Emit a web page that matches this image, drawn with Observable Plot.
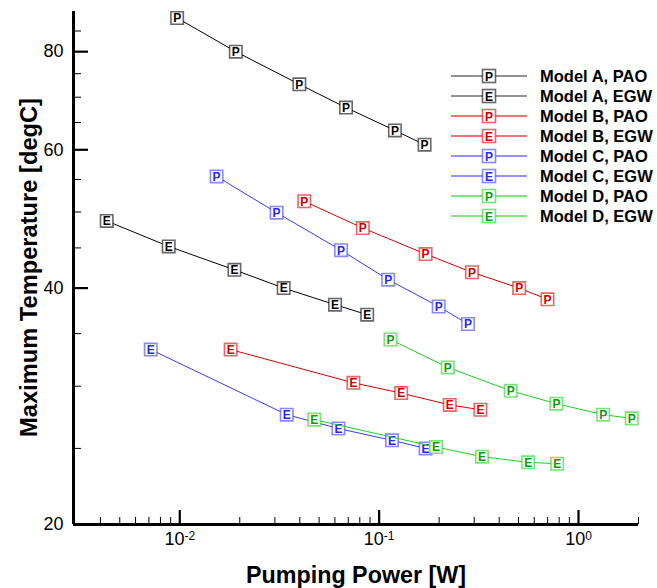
<!DOCTYPE html>
<html>
<head>
<meta charset="utf-8">
<script src="https://cdn.jsdelivr.net/npm/d3@7"></script>
<script src="https://cdn.jsdelivr.net/npm/@observablehq/plot@0.6"></script>
<style>
  body { margin: 0; background: #fff; font-family: "Liberation Sans", Arial, sans-serif; }
  #chart { position: relative; width: 657px; height: 588px; }
</style>
</head>
<body>
<div id="chart"></div>
<script>
// ---- Data ----
const seriesNames   = ["Model A, PAO", "Model A, EGW", "Model B, PAO", "Model B, EGW",
                       "Model C, PAO", "Model C, EGW", "Model D, PAO", "Model D, EGW"];
const seriesLetters = ["P", "E", "P", "E", "P", "E", "P", "E"];

const modelA_PAO_power = [0.0097, 0.0191, 0.0398, 0.0682, 0.120, 0.169];
const modelA_PAO_temp  = [88.3, 80.0, 72.7, 67.9, 63.5, 60.9];
const modelA_EGW_power = [0.0043, 0.0088, 0.0188, 0.0332, 0.0601, 0.0871];
const modelA_EGW_temp  = [48.7, 45.2, 42.2, 40.0, 38.1, 37.0];
const modelB_PAO_power = [0.0421, 0.0828, 0.171, 0.292, 0.504, 0.699];
const modelB_PAO_temp  = [51.6, 47.7, 44.2, 41.9, 40.0, 38.7];
const modelB_EGW_power = [0.0180, 0.0743, 0.129, 0.226, 0.322];
const modelB_EGW_temp  = [33.4, 30.3, 29.4, 28.4, 28.0];
const modelC_PAO_power = [0.0153, 0.0306, 0.0644, 0.111, 0.199, 0.279];
const modelC_PAO_temp  = [55.5, 49.9, 44.7, 41.0, 37.9, 36.0];
const modelC_EGW_power = [0.00715, 0.0344, 0.0625, 0.116, 0.171];
const modelC_EGW_temp  = [33.4, 27.6, 26.5, 25.6, 25.0];
const modelD_PAO_power = [0.114, 0.221, 0.457, 0.775, 1.33, 1.85];
const modelD_PAO_temp  = [34.4, 31.7, 29.6, 28.5, 27.6, 27.3];
const modelD_EGW_power = [0.0473, 0.193, 0.328, 0.559, 0.782];
const modelD_EGW_temp  = [27.2, 25.1, 24.4, 24.0, 23.9];

const xDomain = [0.00293, 2.0];
const yDomain = [20, 90];
const xMajorTicks = [0.01, 0.1, 1];
const xMinorTicks = [0.004, 0.005, 0.006, 0.007, 0.008, 0.009,
                     0.02, 0.03, 0.04, 0.05, 0.06, 0.07, 0.08, 0.09,
                     0.2, 0.3, 0.4, 0.5, 0.6, 0.7, 0.8, 0.9, 2];
const yMajorTicks = [20, 40, 60, 80];
const yMinorTicks = [25, 30, 35, 45, 50, 55, 65, 70, 75, 85];
const xTitle = "Pumping Power [W]";
const yTitle = "Maximum Temperature [degC]";

// ---- Styles ----
const lineColors   = ["#000000", "#000000", "#e00000", "#e00000", "#3a3aff", "#3a3aff", "#1ed01e", "#1ed01e"];
const letterColors = ["#000000", "#000000", "#d00000", "#d00000", "#2828f0", "#2828f0", "#109a10", "#109a10"];

const powers = [modelA_PAO_power, modelA_EGW_power, modelB_PAO_power, modelB_EGW_power,
                modelC_PAO_power, modelC_EGW_power, modelD_PAO_power, modelD_EGW_power];
const temps  = [modelA_PAO_temp, modelA_EGW_temp, modelB_PAO_temp, modelB_EGW_temp,
                modelC_PAO_temp, modelC_EGW_temp, modelD_PAO_temp, modelD_EGW_temp];

const W = 657, H = 588;
const mL = 73, mR = 19, mT = 11, mB = 64;
const innerW = W - mL - mR, innerH = H - mT - mB;

const seriesMarks = seriesNames.flatMap((name, i) => {
  const rows = powers[i].map((p, j) => ({series: name, letter: seriesLetters[i], power: p, temp: temps[i][j]}));
  return [
    Plot.line(rows, {x: "power", y: "temp", stroke: lineColors[i], strokeWidth: 1}),
    Plot.dot(rows, {x: "power", y: "temp", symbol: "square", r: 7.0, fill: "white",
                    stroke: lineColors[i], strokeOpacity: 0.6, strokeWidth: 1.6}),
    Plot.text(rows, {x: "power", y: "temp", text: "letter", fill: letterColors[i],
                     fontWeight: "bold", fontSize: 12, dy: 0.5})
  ];
});

const chart = Plot.plot({
  width: W, height: H,
  marginLeft: mL, marginRight: mR, marginTop: mT, marginBottom: mB,
  style: {fontFamily: "'Liberation Sans', Arial, sans-serif", background: "white", color: "black"},
  x: {type: "log", domain: xDomain},
  y: {type: "log", domain: yDomain},
  marks: [
    // minor / major ticks pointing inward
    Plot.tickX(xMinorTicks, {x: d => d, insetTop: innerH - 7, stroke: "black", strokeWidth: 1}),
    Plot.tickX(xMajorTicks, {x: d => d, insetTop: innerH - 14, stroke: "black", strokeWidth: 2.2}),
    Plot.tickY(yMinorTicks, {y: d => d, insetRight: innerW - 8, stroke: "black", strokeWidth: 1}),
    Plot.tickY(yMajorTicks, {y: d => d, insetRight: innerW - 15, stroke: "black", strokeWidth: 2.2}),
    // axis lines
    Plot.ruleX([xDomain[0]], {stroke: "black", strokeWidth: 3}),
    Plot.ruleY([yDomain[0]], {stroke: "black", strokeWidth: 3}),
    Plot.axisX(xMajorTicks, {tickSize: 0, tickPadding: 8, fontSize: 18, label: null,
                             tickFormat: d => "10^" + Math.round(Math.log10(d))}),
    Plot.axisY(yMajorTicks, {tickSize: 0, tickPadding: 10, fontSize: 18, label: null,
                             tickFormat: d => String(d)}),
    ...seriesMarks
  ]
});

document.getElementById("chart").appendChild(chart);
const svg = d3.select(chart);
svg.style("overflow", "visible");

// superscript exponent tick labels
svg.selectAll('g[aria-label="x-axis tick label"] text').each(function() {
  const t = d3.select(this);
  const s = this.textContent;
  const exp = s.split("^")[1];
  t.text(null);
  t.append("tspan").text("10");
  t.append("tspan").attr("dy", "-0.45em").attr("font-size", 12).text(exp);
});

// axis titles
svg.append("text")
  .attr("x", 356).attr("y", 583)
  .attr("text-anchor", "middle")
  .attr("font-size", 24).attr("font-weight", "bold")
  .attr("textLength", 220).attr("lengthAdjust", "spacingAndGlyphs")
  .attr("fill", "black")
  .text(xTitle);

svg.append("text")
  .attr("transform", "translate(37,267.5) rotate(-90)")
  .attr("text-anchor", "middle")
  .attr("font-size", 24).attr("font-weight", "bold")
  .attr("textLength", 339).attr("lengthAdjust", "spacingAndGlyphs")
  .attr("fill", "black")
  .text(yTitle);

// legend
const lg = svg.append("g").attr("class", "legend");
seriesNames.forEach((name, i) => {
  const y = 76 + 20 * i;
  const isBlack = i < 2;
  lg.append("line").attr("x1", 451).attr("x2", 527).attr("y1", y).attr("y2", y)
    .attr("stroke", lineColors[i]).attr("stroke-width", isBlack ? 1 : 2)
    .attr("stroke-opacity", isBlack ? 0.85 : 0.55);
  lg.append("rect").attr("x", 489 - 6.5).attr("y", y - 6.5).attr("width", 13).attr("height", 13)
    .attr("fill", "white").attr("stroke", lineColors[i]).attr("stroke-opacity", 0.6).attr("stroke-width", 1.6);
  lg.append("text").attr("x", 489).attr("y", y + 4.5).attr("text-anchor", "middle")
    .attr("font-size", 12).attr("font-weight", "bold").attr("fill", letterColors[i])
    .text(seriesLetters[i]);
  lg.append("text").attr("x", 540).attr("y", y + 6).attr("text-anchor", "start")
    .attr("font-size", 16.5).attr("font-weight", "bold").attr("fill", "black")
    .text(name);
});
</script>
</body>
</html>
